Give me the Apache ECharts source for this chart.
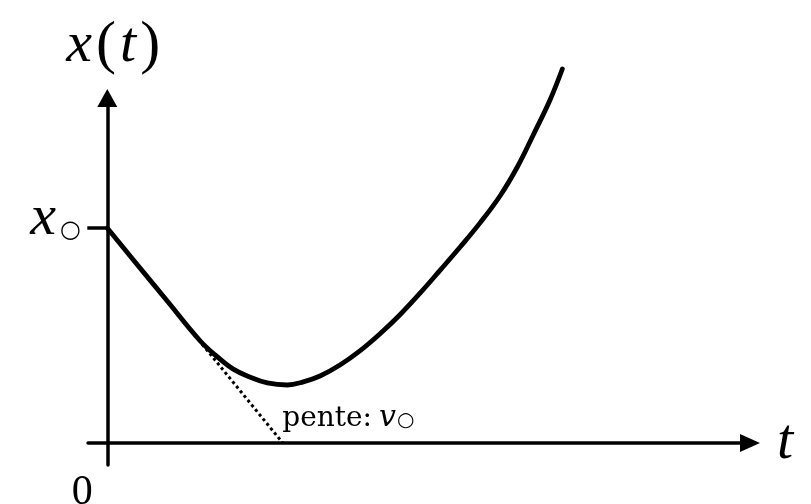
<!DOCTYPE html>
<html>
<head>
<meta charset="utf-8">
<script src="https://cdn.jsdelivr.net/npm/echarts@6/dist/echarts.min.js"></script>
<style>
  html, body { margin: 0; padding: 0; background: #fff; }
  #chart { width: 811px; height: 504px; }
</style>
</head>
<body>
<div id="chart"></div>
<script>
// Position x(t) as a function of time t
const timeValues = [0, 0.40, 0.93, 1.44, 1.71, 1.96, 2.22, 2.49, 2.80, 3.05, 3.31, 3.62, 3.93, 4.24, 4.55, 4.87, 5.18, 5.49, 5.80, 6.11, 6.38, 6.62, 6.89, 7.08];
const positionValues = [6.23, 5.32, 4.12, 2.97, 2.50, 2.14, 1.91, 1.74, 1.68, 1.77, 1.94, 2.26, 2.67, 3.16, 3.71, 4.35, 5.01, 5.68, 6.38, 7.16, 8.00, 8.90, 9.95, 10.84];

// Initial position x0 and the initial tangent (slope v0) down to the t axis
const x0 = 6.23;
const tangentT = [0, 2.73];
const tangentX = [x0, 0];

// Axis labels
const originLabel = '0';
const slopeText = 'pente:';

const mathFont = 'Liberation Serif';
const ink = '#000';

const curveData = timeValues.map((t, i) => [t, positionValues[i]]);
const tangentData = tangentT.map((t, i) => [t, tangentX[i]]);
tangentData[tangentData.length - 1] = {
  value: tangentData[tangentData.length - 1],
  label: {
    show: true,
    position: [0, -39],
    formatter: '{r|' + slopeText + '}{i|v}{s|○}',
    rich: {
      r: { fontFamily: 'DejaVu Serif', fontSize: 28, color: ink, padding: [0, 7, 0, 0] },
      i: { fontFamily: 'DejaVu Serif', fontStyle: 'italic', fontSize: 30, color: ink },
      s: { fontFamily: 'DejaVu Sans', fontSize: 20, color: ink, verticalAlign: 'bottom', padding: [0, 0, 3, 1] }
    }
  }
};

const chart = echarts.init(document.getElementById('chart'), null, { renderer: 'canvas' });
chart.setOption({
  animation: false,
  backgroundColor: '#fff',
  grid: { left: 88, right: 61, top: 98, bottom: 39, containLabel: false, outerBoundsMode: 'none' },
  xAxis: {
    type: 'value',
    min: -0.3,
    max: 10,
    name: 't',
    nameLocation: 'end',
    nameGap: 27,
    nameTextStyle: { fontFamily: mathFont, fontStyle: 'italic', fontSize: 58, color: ink, verticalAlign: 'middle', padding: [6, 0, 0, 0] },
    axisLine: { onZero: true, lineStyle: { color: ink, width: 3.5 }, symbol: ['none', 'triangle'], symbolSize: [18, 20] },
    axisTick: { show: false },
    splitLine: { show: false },
    axisLabel: {
      customValues: [0],
      formatter: () => originLabel,
      fontFamily: mathFont,
      fontSize: 42,
      color: ink,
      margin: 7,
      padding: [0, 50, 0, 0]
    }
  },
  yAxis: {
    type: 'value',
    min: -0.64,
    max: 10,
    name: '{i|x}{r|(}{i|t}{r|)}',
    nameLocation: 'end',
    nameGap: 22,
    nameTextStyle: {
      padding: [0, 0, 0, 16],
      rich: {
        i: { fontFamily: mathFont, fontStyle: 'italic', fontSize: 58, color: ink, padding: [0, 4, 0, 0] },
        r: { fontFamily: mathFont, fontSize: 60, color: ink, padding: [0, 4, 0, 0] }
      }
    },
    axisLine: { onZero: true, lineStyle: { color: ink, width: 3.5 }, symbol: ['none', 'triangle'], symbolSize: [20, 18] },
    axisTick: { customValues: [x0], length: 20, lineStyle: { color: ink, width: 3.5 } },
    splitLine: { show: false },
    axisLabel: {
      customValues: [x0],
      formatter: () => '{i|x}{s|○}',
      margin: 7,
      padding: [0, 0, 18, 0],
      rich: {
        i: { fontFamily: mathFont, fontStyle: 'italic', fontSize: 58, color: ink, padding: [0, 4, 0, 0] },
        s: { fontFamily: 'DejaVu Sans', fontSize: 24, color: ink, verticalAlign: 'bottom', padding: [0, 0, 5, 0] }
      }
    }
  },
  series: [
    {
      type: 'line',
      data: tangentData,
      symbol: 'circle',
      symbolSize: 1,
      itemStyle: { color: 'rgba(0,0,0,0)' },
      clip: false,
      z: 2,
      lineStyle: { color: ink, width: 3, type: [3, 3] }
    },
    {
      type: 'line',
      data: curveData,
      symbol: 'none',
      smooth: 0.4,
      clip: false,
      z: 3,
      lineStyle: { color: ink, width: 4.8, cap: 'round' }
    }
  ]
});
</script>
</body>
</html>
